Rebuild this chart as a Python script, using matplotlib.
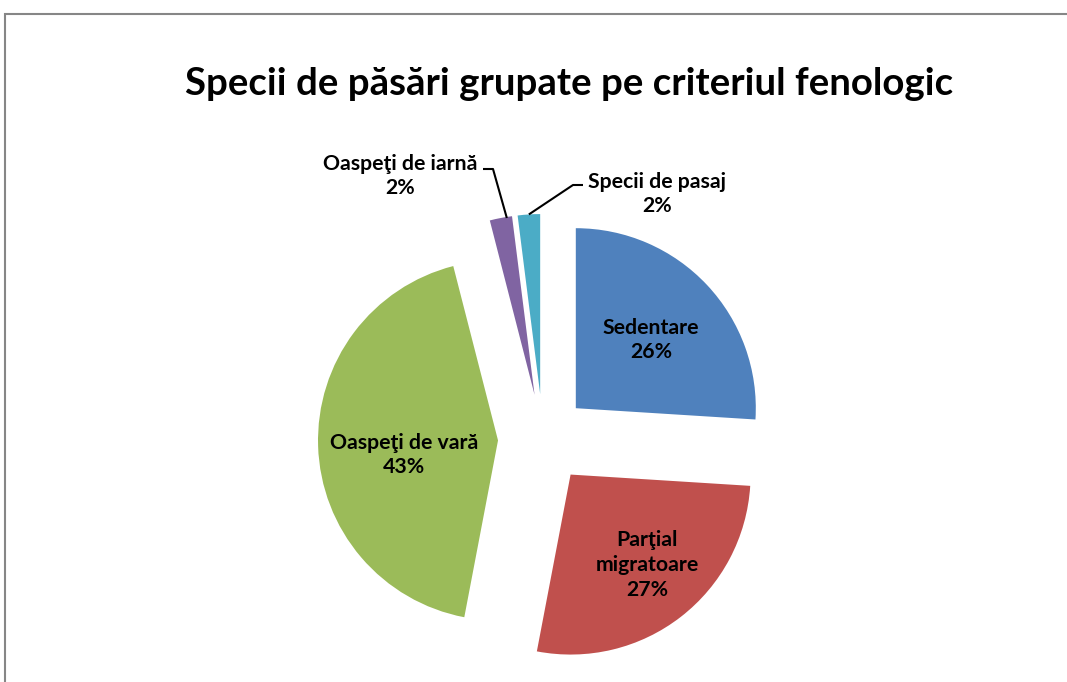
import matplotlib
matplotlib.use("Agg")
import matplotlib.pyplot as plt
from matplotlib.patches import Rectangle
import numpy as np

categories = ["Sedentare", "Parţial\nmigratoare", "Oaspeţi de vară", "Oaspeţi de iarnă", "Specii de pasaj"]
values = [26, 27, 43, 2, 2]
colors = ["#4F81BD", "#C0504D", "#9BBB59", "#8064A2", "#4BACC6"]
title = "Specii de păsări grupate pe criteriul fenologic"

W, H = 1067, 682
fig = plt.figure(figsize=(W / 100, H / 100), dpi=100)
ax = fig.add_axes([0, 0, 1, 1])

FONT = "Lato"

# frame
fig.patches.append(Rectangle((5 / W, -0.05), 1.2, (H - 14) / H + 0.05, transform=fig.transFigure,
                             fill=False, edgecolor="#868686", linewidth=1.5))

cx, cy, R = 543, H - 439, 180
wedges, _ = ax.pie(values, colors=colors, startangle=90, counterclock=False,
                   radius=R, center=(cx, cy), explode=[0.25 * R] * len(values),
                   wedgeprops=dict(linewidth=0), frame=True)
ax.set_xlim(0, W)
ax.set_ylim(0, H)
ax.set_aspect("equal")
ax.axis("off")

total = sum(values)
pct = [f"{round(v / total * 100)}%" for v in values]

def wedge_point(w, frac):
    th = np.deg2rad((w.theta1 + w.theta2) / 2)
    x0, y0 = w.center
    return x0 + frac * w.r * np.cos(th), y0 + frac * w.r * np.sin(th)

lab_kw = dict(ha="center", va="center", fontsize=15.3, fontweight="bold", family=FONT,
              color="black", linespacing=1.3)

# inside labels
inside_pos = {0: (651, 340), 1: (647, 565), 2: (404, 455)}
for i, (x, y) in inside_pos.items():
    ax.text(x, H - y, f"{categories[i]}\n{pct[i]}", **lab_kw)

# outside labels with leader lines
ax.text(400, H - 176, f"{categories[3]}\n{pct[3]}", **lab_kw)
ax.text(657, H - 194, f"{categories[4]}\n{pct[4]}", **lab_kw)

px, py = wedge_point(wedges[3], 1.0)
ax.plot([483, 493, px + 6], [H - 169, H - 169, py], color="black", lw=1.5, solid_capstyle="butt")
px, py = wedge_point(wedges[4], 1.0)
ax.plot([583, 573, px], [H - 185, H - 185, py], color="black", lw=1.5, solid_capstyle="butt")

# title, fitted to reference width
t = ax.text(569, H - 84, title, ha="center", va="center", fontsize=26, fontweight="bold", family=FONT)
fig.canvas.draw()
bb = t.get_window_extent()
t.set_fontsize(26 * 766 / bb.width)

fig.savefig("out.png", dpi=100)
